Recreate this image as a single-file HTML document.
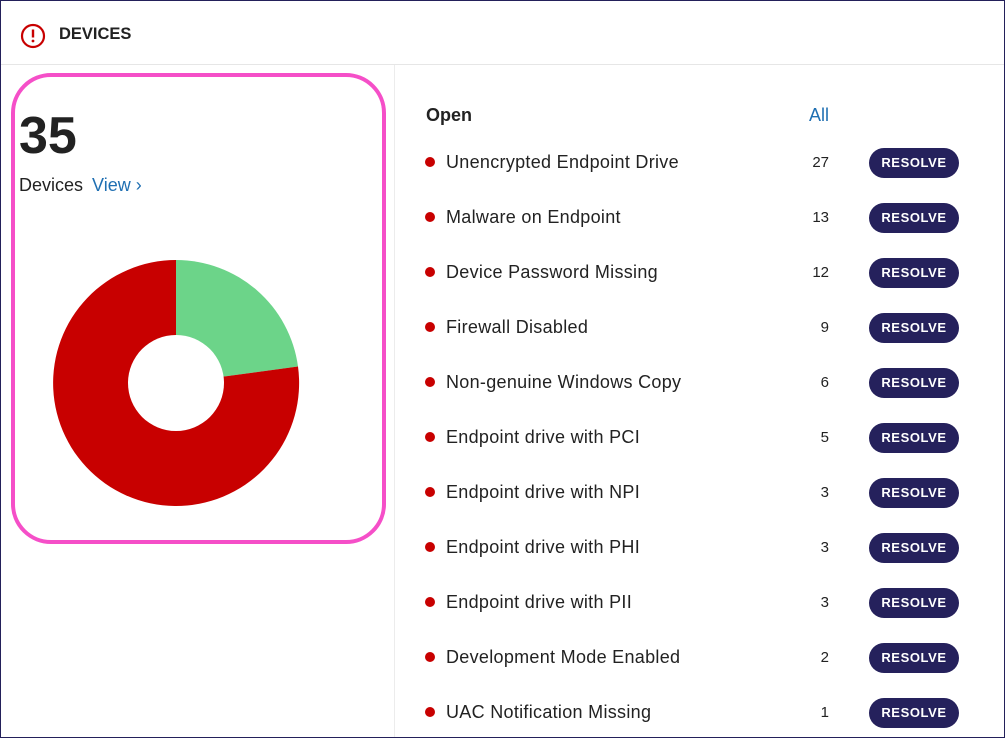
<!DOCTYPE html>
<html><head><style>
*{margin:0;padding:0;box-sizing:border-box}
body{width:1005px;height:738px;overflow:hidden;background:#fff;font-family:"Source Sans Pro","Liberation Sans",sans-serif;color:#222}
.frame{position:absolute;left:0;top:0;width:1005px;height:738px;border:1px solid #23205a}
.hdr{position:absolute;left:0;top:0;width:1005px;height:65px;border-bottom:1px solid #e6e6e6}
.title{position:absolute;left:59px;top:25px;font-size:16.5px;font-weight:bold;color:#222}
.vdiv{position:absolute;left:394px;top:65px;width:1px;height:673px;background:#ececec}
.box{position:absolute;left:11px;top:73px;width:375px;height:471px;border:4px solid #f54fc8;border-radius:40px}
.big{position:absolute;left:19px;top:104px;font-size:52px;font-weight:bold;color:#222;line-height:64px}
.dev{position:absolute;left:19px;top:175px;font-size:18px}
.dev span{color:#1f6fb2;margin-left:4px}
.open{position:absolute;left:426px;top:105px;font-size:18px;font-weight:bold}
.all{position:absolute;left:809px;top:105px;font-size:18px;color:#1f6fb2}
.row{position:absolute;left:0;width:1005px;height:30px}
.dot{position:absolute;left:425px;top:9px;width:10px;height:10px;border-radius:50%;background:#c80000}
.lbl{position:absolute;left:446px;top:4px;font-size:18px;color:#222;letter-spacing:0.3px}
.num{position:absolute;left:790px;width:39px;text-align:right;top:6px;font-size:15px}
.btn{position:absolute;left:869px;top:0;width:90px;height:30px;border-radius:15px;background:#25215c;color:#fff;font-size:13px;font-weight:bold;letter-spacing:0.6px;text-align:center;line-height:30px}
</style></head><body>
<div class="hdr"></div>
<svg style="position:absolute;left:20px;top:23px" width="26" height="26"><circle cx="13" cy="13" r="11" fill="none" stroke="#c80000" stroke-width="2.2"/><rect x="11.8" y="6.5" width="2.4" height="8" fill="#c80000"/><circle cx="13" cy="18" r="1.4" fill="#c80000"/></svg>
<div class="title">DEVICES</div>
<div class="vdiv"></div>
<div class="box"></div>
<div class="big">35</div>
<div class="dev">Devices <span>View ›</span></div>
<svg style="position:absolute;left:0;top:0" width="395" height="738">
<path d="M176,383 L176,260 A123,123 0 0 1 298,366.5 Z" fill="#6cd489"/>
<path d="M176,383 L298,366.5 A123,123 0 1 1 176,260 Z" fill="#c80000"/>
<circle cx="176" cy="383" r="48" fill="#fff"/>
</svg>
<div class="open">Open</div>
<div class="all">All</div>
<div class="row" style="top:148px"><div class="dot"></div><div class="lbl">Unencrypted Endpoint Drive</div><div class="num">27</div><div class="btn">RESOLVE</div></div>
<div class="row" style="top:203px"><div class="dot"></div><div class="lbl">Malware on Endpoint</div><div class="num">13</div><div class="btn">RESOLVE</div></div>
<div class="row" style="top:258px"><div class="dot"></div><div class="lbl">Device Password Missing</div><div class="num">12</div><div class="btn">RESOLVE</div></div>
<div class="row" style="top:313px"><div class="dot"></div><div class="lbl">Firewall Disabled</div><div class="num">9</div><div class="btn">RESOLVE</div></div>
<div class="row" style="top:368px"><div class="dot"></div><div class="lbl">Non-genuine Windows Copy</div><div class="num">6</div><div class="btn">RESOLVE</div></div>
<div class="row" style="top:423px"><div class="dot"></div><div class="lbl">Endpoint drive with PCI</div><div class="num">5</div><div class="btn">RESOLVE</div></div>
<div class="row" style="top:478px"><div class="dot"></div><div class="lbl">Endpoint drive with NPI</div><div class="num">3</div><div class="btn">RESOLVE</div></div>
<div class="row" style="top:533px"><div class="dot"></div><div class="lbl">Endpoint drive with PHI</div><div class="num">3</div><div class="btn">RESOLVE</div></div>
<div class="row" style="top:588px"><div class="dot"></div><div class="lbl">Endpoint drive with PII</div><div class="num">3</div><div class="btn">RESOLVE</div></div>
<div class="row" style="top:643px"><div class="dot"></div><div class="lbl">Development Mode Enabled</div><div class="num">2</div><div class="btn">RESOLVE</div></div>
<div class="row" style="top:698px"><div class="dot"></div><div class="lbl">UAC Notification Missing</div><div class="num">1</div><div class="btn">RESOLVE</div></div>
<div class="frame"></div>
</body></html>
